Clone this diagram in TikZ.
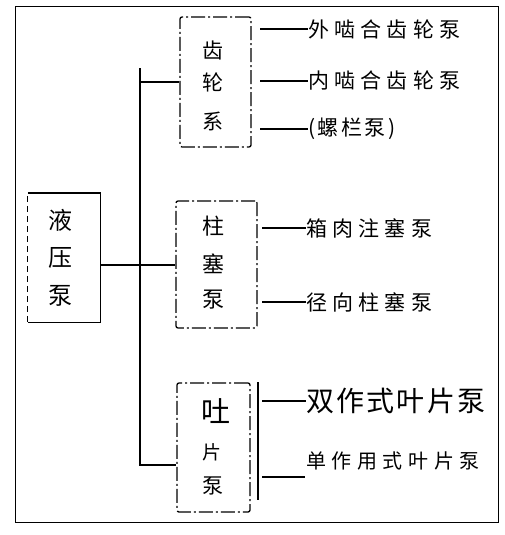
\documentclass[tikz,border=0pt]{standalone}
\usepackage{fontspec}
\newfontfamily\cjk{Noto Sans CJK SC}
\newfontfamily\cjksp[LetterSpace=25]{Noto Sans CJK SC}
\newfontfamily\cjkspd[LetterSpace=28]{Noto Sans CJK SC}
\newfontfamily\cjkspc[LetterSpace=12]{Noto Sans CJK SC}
\newfontfamily\cjkspb[LetterSpace=8]{Noto Sans CJK SC}
\begin{document}
\begin{tikzpicture}[x=1pt,y=-1pt,
  conn/.style={line width=1.8pt},
  dashbox/.style={draw, line width=1.3pt, dash pattern=on 14pt off 3pt on 2pt off 3pt, rounded corners=2pt},
  lbl/.style={inner sep=0pt, anchor=west},
  ch/.style={inner sep=0pt}]
\useasboundingbox (0,0) rectangle (504,535);
\fill[white] (0,0) rectangle (504,535);
\draw[line width=1pt] (15,7) rectangle (498,522);

% boxes
\node[dashbox, minimum width=71pt, minimum height=130pt] (gear) at (215.5,82) {};
\node[dashbox, minimum width=81pt, minimum height=127pt] (plunger) at (216.5,264.5) {};
\node[dashbox, minimum width=73pt, minimum height=129pt] (vane) at (213.5,447.5) {};
\node[minimum width=72pt, minimum height=129pt, inner sep=0pt] (hyd) at (64,257.5) {};
\draw[line width=1.4pt] (hyd.north west) -- (hyd.north east) -- (hyd.south east) -- (hyd.south west);
\draw[line width=1.2pt, dash pattern=on 6pt off 4pt] (hyd.south west) -- (hyd.north west);

% box texts
\node[ch, font=\cjk\fontsize{21}{21}\selectfont] (g1c) at (213,50) {齿};
\node[ch, font=\cjk\fontsize{21}{21}\selectfont] (g2c) at (213,82) {轮};
\node[ch, font=\cjk\fontsize{21}{21}\selectfont] (g3c) at (213,121) {系};
\node[ch, font=\cjk\fontsize{24}{24}\selectfont] (h1c) at (60,220) {液};
\node[ch, font=\cjk\fontsize{24}{24}\selectfont] (h2c) at (60,258) {压};
\node[ch, font=\cjk\fontsize{24}{24}\selectfont] (h3c) at (60,296) {泵};
\node[ch, font=\cjk\fontsize{22}{22}\selectfont] (p1c) at (213,226) {柱};
\node[ch, font=\cjk\fontsize{22}{22}\selectfont] (p2c) at (213,264) {塞};
\node[ch, font=\cjk\fontsize{22}{22}\selectfont] (p3c) at (213,300) {泵};
\node[ch, font=\cjk\fontsize{29}{29}\selectfont] (v1c) at (216,411) {吐};
\node[ch, font=\cjk\fontsize{19}{19}\selectfont] (v2c) at (212,452) {片};
\node[ch, font=\cjk\fontsize{21}{21}\selectfont] (v3c) at (213,486) {泵};

% leaf labels
\node[lbl, font=\cjksp\fontsize{21}{21}\selectfont] (t1) at (308,29) {外啮合齿轮泵};
\node[lbl, font=\cjksp\fontsize{21}{21}\selectfont] (t2) at (308,81) {内啮合齿轮泵};
\node[lbl, font=\cjkspc\fontsize{21}{21}\selectfont] (t3) at (308,129) {(螺栏泵)};
\node[lbl, font=\cjksp\fontsize{21}{21}\selectfont] (t4) at (306,228) {箱肉注塞泵};
\node[lbl, font=\cjksp\fontsize{21}{21}\selectfont] (t5) at (306,302) {径向柱塞泵};
\node[lbl, font=\cjkspb\fontsize{28}{28}\selectfont] (t6) at (306,401) {双作式叶片泵};
\node[lbl, font=\cjkspd\fontsize{20}{20}\selectfont] (t7) at (306,461) {单作用式叶片泵};

% trunk
\coordinate (trT) at (140,68);
\coordinate (j1) at (140,82);
\coordinate (j2) at (140,265);
\coordinate (trB) at (140,465);
\draw[conn] (trT) -- (trB) -- (vane.west |- trB);
\draw[conn] (j1) -- (gear.west);
\draw[conn] (j2) -- (plunger.west |- j2);
\draw[conn] (hyd.east |- j2) -- (j2);

% gear branches
\coordinate (b1) at (260,29);
\coordinate (b2) at (260,81);
\coordinate (b3) at (260,129);
\draw[conn] (b1) -- (t1.west);
\draw[conn] (b2) -- (t2.west);
\draw[conn] (b3) -- (t3.west);
% plunger branches
\coordinate (b4) at (262,228);
\coordinate (b5) at (262,302);
\draw[conn] (b4) -- (t4.west);
\draw[conn] (b5) -- (t5.west);
% vane branches
\coordinate (vl1) at (258,382);
\coordinate (vl2) at (258,500);
\draw[line width=1.4pt] (vl1) -- (vl2);
\coordinate (b6) at (262,401);
\coordinate (b7) at (262,477);
\coordinate (b7e) at (305,477);
\draw[conn] (b6) -- (t6.west);
\draw[conn] (b7) -- (b7e);
\end{tikzpicture}
\end{document}
